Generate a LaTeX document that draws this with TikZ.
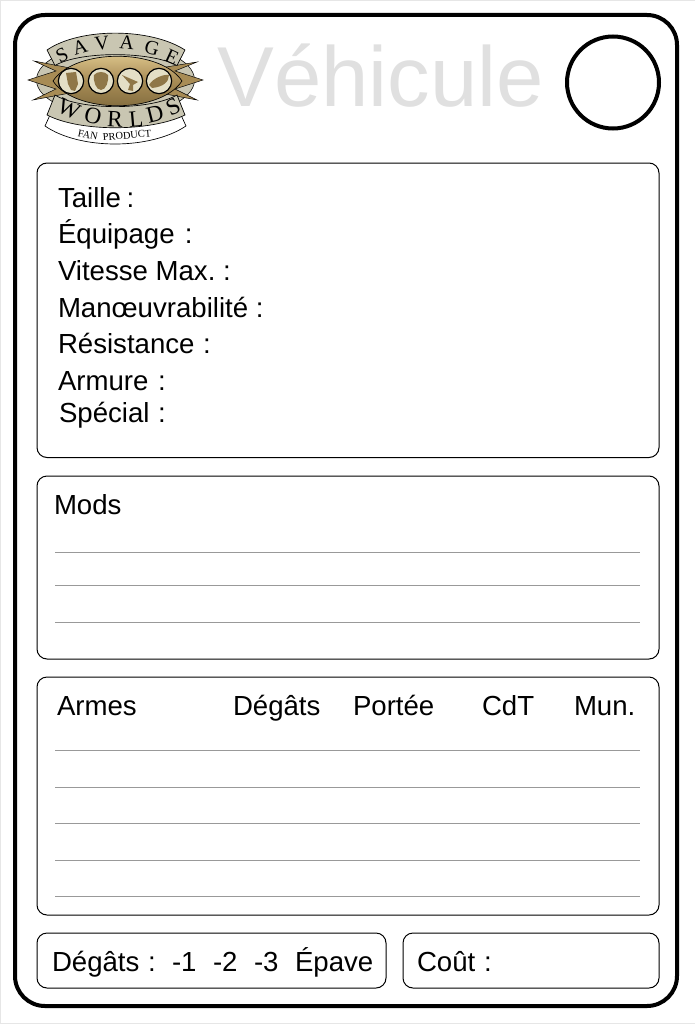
\documentclass[tikz,border=0pt]{standalone}
\usepackage{fontspec}
\setmainfont{Liberation Sans}
\newfontfamily\logofont{Liberation Serif}
\definecolor{pagegrey}{HTML}{E6E6E6}
\definecolor{ruleg}{HTML}{999999}
\definecolor{titleg}{HTML}{E0E0E0}
\definecolor{bannerg}{HTML}{C9C6B2}
\definecolor{goldd}{HTML}{6E5A30}
\definecolor{goldm}{HTML}{A88C55}
\definecolor{goldl}{HTML}{E6CF96}
\definecolor{discc}{HTML}{E4DFC6}
\tikzset{
 x=0.75pt,y=-0.75pt,
 panel/.style={draw=black,line width=0.75pt,rounded corners=7.5pt,fill=white},
 lab/.style={anchor=base west,inner sep=0pt,outer sep=0pt,font=\frenchspacing\fontsize{20.7}{24}\selectfont},
 rulel/.style={draw=ruleg,line width=0.75pt},
 lg/.style={inner sep=0pt,outer sep=0pt,font=\logofont\fontsize{15}{15}\selectfont},
 lgb/.style={inner sep=0pt,outer sep=0pt,font=\logofont\fontsize{17.5}{18}\selectfont},
 lgs/.style={inner sep=0pt,outer sep=0pt,font=\logofont\fontsize{7.8}{8}\selectfont},
 disc/.style={circle,draw=black,line width=0.9pt,fill=discc,minimum size=19pt,inner sep=0pt},
 bann/.style={draw=black,line width=0.5pt,fill=bannerg},
 inkgold/.style={fill=goldm!85!black},
}
\begin{document}
\begin{tikzpicture}
\useasboundingbox (0,0) rectangle (695,1024);
\fill[pagegrey] (0,0) rectangle (695,1024);
\fill[white] (1.3,1.3) rectangle (694.5,1022.7);
\draw[black,line width=3pt,rounded corners=22.5pt,fill=white] (15,15) rectangle (677,1006);
% logo
\fill[bannerg,draw=black,line width=0.4pt] (115.5,80) ellipse [x radius=79,y radius=36];
\draw[draw=black,line width=0.35pt,fill=goldm] (34,61) -- (56,71) -- (28,80) -- (56,89) -- (33,100) -- (70,93) -- (160,93) -- (197,100) -- (175,89) -- (203,80) -- (175,71) -- (197,62) -- (160,68) -- (70,68) -- cycle;
\draw[bann] (47,50) .. controls (80,27.5) and (150,27.5) .. (185,50) -- (177,65.5) .. controls (150,51) and (80,51) .. (55,65.5) -- cycle;
\draw[draw=black,line width=0.5pt,fill=white] (50,115) -- (45,126) .. controls (80,150) and (150,150) .. (186,126) -- (181,115) -- cycle;
\draw[bann] (55,95) .. controls (80,110.5) and (150,110.5) .. (177,95) -- (185,115) .. controls (150,132) and (80,132) .. (47,115) -- cycle;
\shade[top color=goldl,bottom color=goldd!90!goldl,middle color=goldm,draw=black,line width=0.5pt] (53,81) .. controls (75,48) and (160,48) .. (182,81) .. controls (160,114) and (75,114) .. (53,81) -- cycle;
\node[disc] (d1) at (71,81) {};
\node[disc] (d2) at (101,81) {};
\node[disc] (d3) at (130,81) {};
\node[disc] (d4) at (159,81) {};
\fill[inkgold] (66,73) -- (76,72) -- (78,84) -- (75,91) -- (71,90) -- (68,84) -- cycle;
\fill[inkgold] (94,75) .. controls (97,71) and (105,71) .. (108,75) .. controls (109,81) and (106,90) .. (101,90) .. controls (96,90) and (93,81) .. (94,75);
\fill[inkgold] (122,75) -- (138,82) -- (133,85) -- (133,91) -- (128,90) -- (130,84) -- cycle;
\fill[inkgold] (149,85) .. controls (153,78) and (164,74) .. (169,75) .. controls (169,82) and (163,87) .. (152,88) -- cycle;
\node[lg,rotate=26] (s1) at (62,55) {S};
\node[lg,rotate=16] (s2) at (80,47) {A};
\node[lg,rotate=6] (s3) at (102,43) {V};
\node[lg,rotate=-5] (s4) at (127,43) {A};
\node[lg,rotate=-15] (s5) at (152,48) {G};
\node[lg,rotate=-25] (s6) at (172,57) {E};
\node[lgb,rotate=-24] (w1) at (69,109) {W};
\node[lgb,rotate=-13] (w2) at (93,116) {O};
\node[lgb,rotate=-3] (w3) at (115,119) {R};
\node[lgb,rotate=5] (w4) at (136,119) {L};
\node[lgb,rotate=14] (w5) at (155,114) {D};
\node[lgb,rotate=26] (w6) at (173,107) {S};
\node[lgs,rotate=-12] (f1) at (88,135) {FAN};
\node[lgs,rotate=5] (f2) at (127,135.5) {PRODUCT};
% title
\node[anchor=base west,inner sep=0pt,text=titleg,font=\fontsize{63.8}{70}\selectfont] (title) at (217,107) {Véhicule};
\node[circle,draw=black,line width=3pt,minimum size=69pt,inner sep=0pt] (badge) at (613,82.5) {};
% panels
\draw[panel] (37,163) rectangle (659,457.5);
\node[lab] (t1) at (58,207) {Taille\hspace{-1.5pt} :};
\node[lab] (t2) at (58,243) {Équipage\hspace{2pt} :};
\node[lab] (t3) at (58,280) {Vitesse Max. :};
\node[lab] (t4) at (58,317) {Manœuvrabilité :};
\node[lab] (t5) at (58,353) {Résistance\hspace{0.8pt} :};
\node[lab] (t6) at (58,390) {Armure\hspace{1.5pt} :};
\node[lab] (t7) at (59,422) {Spécial\hspace{0.8pt} :};
\draw[panel] (37,476) rectangle (659,659);
\node[lab] (m0) at (54,514) {Mods};
\foreach \y in {552.5,585.5,622.5} \draw[rulel] (55,\y) -- (640,\y);
\draw[panel] (37,677) rectangle (659,915);
\node[lab] (a1) at (57,715) {Armes};
\node[lab] (a2) at (233,715) {Dégâts};
\node[lab] (a3) at (353,715) {Portée};
\node[lab] (a4) at (482,715) {CdT};
\node[lab] (a5) at (574,715) {Mun.};
\foreach \y in {750,787,823.5,860,896.5} \draw[rulel] (55,\y) -- (640,\y);
\draw[panel] (37,933) rectangle (386,988);
\node[lab] (d0) at (52,971) {Dégâts\hspace{0.8pt} :};
\node[lab] (d5) at (172,971) {-1};
\node[lab] (d6) at (213,971) {-2};
\node[lab] (d7) at (254,971) {-3};
\node[lab] (d8) at (295,971) {Épave};
\draw[panel] (403,933) rectangle (659,988);
\node[lab] (c0) at (417,971) {Coût\hspace{0.8pt} :};
\end{tikzpicture}
\end{document}
